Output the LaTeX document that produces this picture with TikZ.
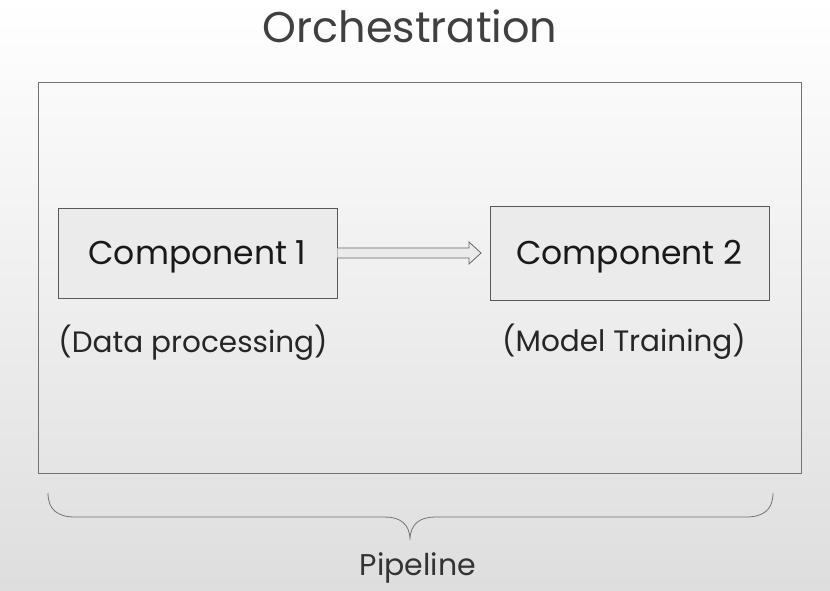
\documentclass[tikz,border=0pt]{standalone}
\usepackage{fontspec}
\setmainfont{Poppins}
\begin{document}
\begin{tikzpicture}[x=1pt,y=-1pt,
  comp/.style={draw=gray!70!black, fill=black!8, line width=0.9pt, minimum width=279pt, minimum height=90pt, inner sep=0pt, font=\fontsize{33}{38}\selectfont, text=black!90},
  sub/.style={font=\fontsize{29.5}{34}\selectfont, text=black!85},
  frame/.style={draw=black!55, line width=0.9pt}]
\shade[top color=white, bottom color=black!13] (0,0) rectangle (830,590);
\useasboundingbox (0,0) rectangle (830,590);
\node[font=\fontsize{43}{50}\selectfont, text=black!75] (title) at (410,26) {Orchestration};
\draw[frame] (38,82) rectangle (801,473);
\node[comp] (c1) at (197.5,253) {\raisebox{-4pt}[\height][\depth]{Component 1}};
\node[comp, minimum height=94pt] (c2) at (629.5,253) {\raisebox{-4pt}[\height][\depth]{Component 2}};
\node[sub] (s1) at (193,343) {(Data processing)};
\node[sub] (s2) at (624,342) {(Model Training)};
\coordinate (a0) at (c1.east);
\coordinate (a1) at (481,253);
\draw[draw=black!60, fill=black!8, line width=0.8pt, line join=miter]
  ([yshift=5pt]a0) -- (469,248) -- (469,242) -- (a1) -- (469,264) -- (469,258) -- ([yshift=-5pt]a0);
\coordinate (b0) at (48,493);
\coordinate (b1) at (773,493);
\coordinate (bt) at (410,540);
\draw[draw=black!55, line width=0.8pt]
  (b0) .. controls (48,510) and (58,517) .. (75,517) -- (385,517)
  .. controls (400,517) and (410,524) .. (bt)
  .. controls (410,524) and (420,517) .. (435,517) -- (746,517)
  .. controls (763,517) and (773,510) .. (b1);
\node[font=\fontsize{30}{34}\selectfont, text=black!80] (pl) at (418,568) {Pipeline};
\end{tikzpicture}
\end{document}
